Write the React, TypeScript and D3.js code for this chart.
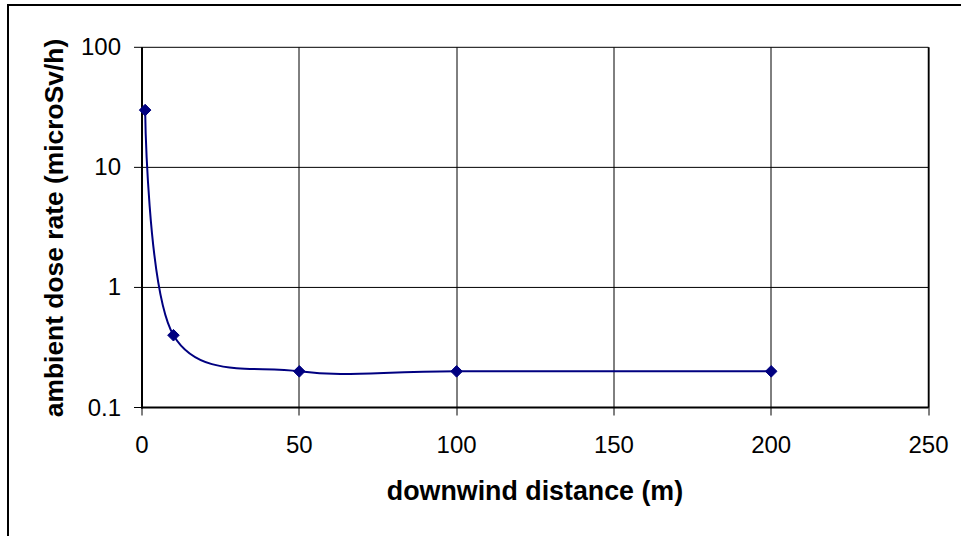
import React from "react";
import * as d3 from "d3";

const distances = [1, 10, 50, 100, 200];
const doseRates = [30, 0.4, 0.2, 0.2, 0.2];
const xTicks = [0, 50, 100, 150, 200, 250];
const yTicks = [0.1, 1, 10, 100];
const xTitle = "downwind distance (m)";
const yTitle = "ambient dose rate (microSv/h)";

const W = 961;
const H = 536;
const plot = { left: 142, right: 928.5, top: 47.3, bottom: 407.5 };
const NAVY = "#000080";

export default function App() {
  const x = d3.scaleLinear().domain([0, 250]).range([plot.left, plot.right]);
  const y = d3.scaleLog().domain([0.1, 100]).range([plot.bottom, plot.top]);
  const pts: [number, number][] = distances.map((d, i) => [x(d), y(doseRates[i])]);
  const line = d3.line<[number, number]>().x((p) => p[0]).y((p) => p[1]).curve(d3.curveCardinal.tension(0));
  const path = line(pts) || "";
  const diamond = (cx: number, cy: number, r: number) =>
    `M${cx},${cy - r}L${cx + r},${cy}L${cx},${cy + r}L${cx - r},${cy}Z`;

  return (
    <svg
      width={W}
      height={H}
      style={{ position: "absolute", left: 0, top: 0, background: "#fff" }}
      fontFamily="Arial, 'Liberation Sans', sans-serif"
    >
      <rect x={0} y={0} width={W} height={H} fill="#fff" />
      {/* outer chart border (extends beyond right/bottom edges) */}
      <rect x={8} y={5} width={W + 20} height={H + 20} fill="none" stroke="#000" strokeWidth={2} />

      {/* horizontal gridlines */}
      {yTicks.map((t) => (
        <line key={"hg" + t} x1={plot.left - 8} x2={plot.right} y1={y(t)} y2={y(t)} stroke="#000" strokeWidth={1} />
      ))}
      {/* vertical gridlines */}
      {xTicks.map((t) => (
        <line key={"vg" + t} x1={Math.round(x(t))} x2={Math.round(x(t))} y1={plot.top} y2={plot.bottom + 8} stroke="#000" strokeWidth={1} />
      ))}
      {/* plot frame */}
      <line x1={plot.right} x2={plot.right} y1={plot.top} y2={plot.bottom} stroke="#000" strokeWidth={1.5} />
      <line x1={plot.left} x2={plot.left} y1={plot.top} y2={plot.bottom + 1} stroke="#000" strokeWidth={2} />
      <line x1={plot.left - 1} x2={plot.right} y1={plot.bottom} y2={plot.bottom} stroke="#000" strokeWidth={2} />

      {/* y tick labels */}
      {yTicks.map((t) => (
        <text key={"yl" + t} x={121} y={y(t) + 8} textAnchor="end" fontSize={24} fill="#000">
          {String(t)}
        </text>
      ))}
      {/* x tick labels */}
      {xTicks.map((t) => (
        <text key={"xl" + t} x={x(t)} y={453} textAnchor="middle" fontSize={24} fill="#000">
          {String(t)}
        </text>
      ))}

      {/* series */}
      <path d={path} fill="none" stroke={NAVY} strokeWidth={2} />
      {pts.map((p, i) => (
        <path key={"m" + i} d={diamond(p[0], p[1], 5.8)} fill={NAVY} stroke={NAVY} strokeWidth={1} />
      ))}

      {/* axis titles */}
      <text x={535} y={500} textAnchor="middle" fontSize={26.8} fontWeight="bold" fill="#000">
        {xTitle}
      </text>
      <text
        transform={`translate(63,228) rotate(-90)`}
        textAnchor="middle"
        fontSize={26.4}
        fontWeight="bold"
        fill="#000"
      >
        {yTitle}
      </text>
    </svg>
  );
}
